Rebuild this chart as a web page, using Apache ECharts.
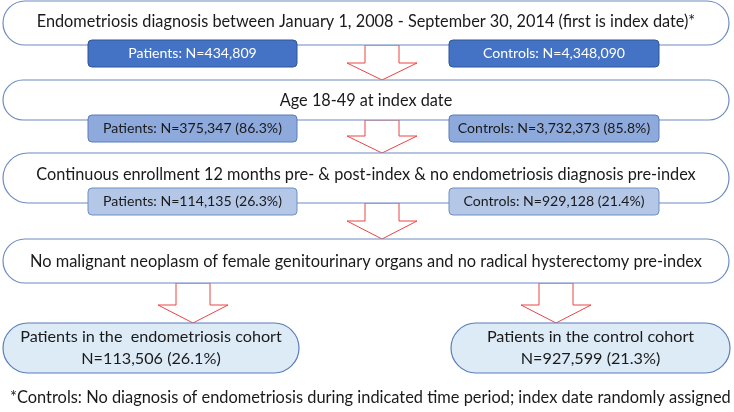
<!DOCTYPE html>
<html>
<head>
<meta charset="utf-8">
<script src="https://cdn.jsdelivr.net/npm/echarts@6/dist/echarts.min.js"></script>
<style>
html,body{margin:0;padding:0;background:#fff;}
#chart{width:734px;height:412px;}
</style>
</head>
<body>
<div id="chart"></div>
<script>
// ---- data ----
const steps = [
  "Endometriosis diagnosis between January 1, 2008 - September 30, 2014 (first is index date)*",
  "Age 18-49 at index date",
  "Continuous enrollment 12 months pre- & post-index & no endometriosis diagnosis pre-index",
  "No malignant neoplasm of female genitourinary organs and no radical hysterectomy pre-index"
];
const patientsN = ["434,809", "375,347", "114,135"];
const patientsPct = ["", "86.3%", "26.3%"];
const controlsN = ["4,348,090", "3,732,373", "929,128"];
const controlsPct = ["", "85.8%", "21.4%"];
const cohortLabels = ["Patients in the  endometriosis cohort", "Patients in the control cohort"];
const cohortN = ["113,506", "927,599"];
const cohortPct = ["26.1%", "21.3%"];
const footnote = "*Controls: No diagnosis of endometriosis during indicated time period; index date randomly assigned";

// ---- layout & style ----
const FONT = 'Lato, "Open Sans", sans-serif';
const canvas = document.createElement('canvas');
const ctx = canvas.getContext('2d');
function fitSize(text, target, base) {
  ctx.font = base + 'px ' + FONT;
  const w = ctx.measureText(text).width;
  return Math.round(base * target / w * 10) / 10;
}
const mainRows = [
  {y: 1, h: 44, ty: 22, tw: 660},
  {y: 80, h: 40, ty: 101, tw: 0},
  {y: 153, h: 50, ty: 175, tw: 661},
  {y: 239, h: 44, ty: 262, tw: 671}
];
const subRows = [
  {y: 40, h: 27, fill: '#4472C4', stroke: '#2F5597', color: '#ffffff'},
  {y: 115, h: 27, fill: '#8EA9DB', stroke: '#5B7DB8', color: '#1a1a1a'},
  {y: 188, h: 27, fill: '#B4C7E7', stroke: '#6F8FC7', color: '#1a1a1a'}
];
const arrows = [
  {cx: 382, top: 45, wing: 63, tip: 80},
  {cx: 382, top: 120, wing: 136, tip: 153},
  {cx: 382, top: 203, wing: 221, tip: 239},
  {cx: 193, top: 283, wing: 305, tip: 323},
  {cx: 556, top: 283, wing: 305, tip: 323}
];
const cohortBoxes = [{x: 3, w: 296}, {x: 451, w: 279}];

const baseSize = fitSize(steps[0], 660, 16);
const els = [];

arrows.forEach(a => {
  els.push({
    type: 'polygon', z: 1,
    shape: {points: [[a.cx - 17, a.top], [a.cx + 17, a.top], [a.cx + 17, a.wing], [a.cx + 35, a.wing], [a.cx, a.tip], [a.cx - 35, a.wing], [a.cx - 17, a.wing]]},
    style: {fill: '#ffffff', stroke: '#EE4444', lineWidth: 1}
  });
});

steps.forEach((s, i) => {
  const r = mainRows[i];
  els.push({
    type: 'rect', z: 2,
    shape: {x: 3, y: r.y, width: 726, height: r.h, r: r.h / 2},
    style: {fill: '#ffffff', stroke: '#6E8CC0', lineWidth: 1.2}
  });
  const fs = r.tw ? fitSize(s, r.tw, 16) : baseSize;
  els.push({
    type: 'text', z: 5,
    style: {text: s, x: 366, y: r.ty, align: 'center', verticalAlign: 'middle', font: fs + 'px ' + FONT, fill: '#1a1a1a'}
  });
});

const subSize = fitSize('Patients: N=434,809', 129, 14);
subRows.forEach((r, i) => {
  const pText = 'Patients: N=' + patientsN[i] + (patientsPct[i] ? ' (' + patientsPct[i] + ')' : '');
  const cText = 'Controls: N=' + controlsN[i] + (controlsPct[i] ? ' (' + controlsPct[i] + ')' : '');
  [[88, 209, pText], [449, 210, cText]].forEach(([x, w, t]) => {
    els.push({
      type: 'rect', z: 3,
      shape: {x: x, y: r.y, width: w, height: r.h, r: 4},
      style: {fill: r.fill, stroke: r.stroke, lineWidth: 1}
    });
    els.push({
      type: 'text', z: 5,
      style: {text: t, x: x + w / 2, y: r.y + r.h / 2, align: 'center', verticalAlign: 'middle', font: subSize + 'px ' + FONT, fill: r.color}
    });
  });
});

const cohortSize = fitSize(cohortLabels[1], 208, 16);
cohortBoxes.forEach((b, i) => {
  els.push({
    type: 'rect', z: 3,
    shape: {x: b.x, y: 323, width: b.w, height: 50, r: 25},
    style: {fill: '#DDEBF7', stroke: '#5B7DB8', lineWidth: 1.2}
  });
  els.push({
    type: 'text', z: 5,
    style: {text: cohortLabels[i], x: b.x + b.w / 2, y: 337, align: 'center', verticalAlign: 'middle', font: cohortSize + 'px ' + FONT, fill: '#1a1a1a'}
  });
  els.push({
    type: 'text', z: 5,
    style: {text: 'N=' + cohortN[i] + ' (' + cohortPct[i] + ')', x: b.x + b.w / 2, y: 359, align: 'center', verticalAlign: 'middle', font: cohortSize + 'px ' + FONT, fill: '#1a1a1a'}
  });
});

els.push({
  type: 'text', z: 5,
  style: {text: footnote, x: 10, y: 398, align: 'left', verticalAlign: 'middle', font: fitSize(footnote, 721, 16) + 'px ' + FONT, fill: '#1a1a1a'}
});

const chart = echarts.init(document.getElementById('chart'), null, {renderer: 'canvas'});
chart.setOption({
  animation: false,
  backgroundColor: '#ffffff',
  graphic: {elements: els}
});
</script>
</body>
</html>
